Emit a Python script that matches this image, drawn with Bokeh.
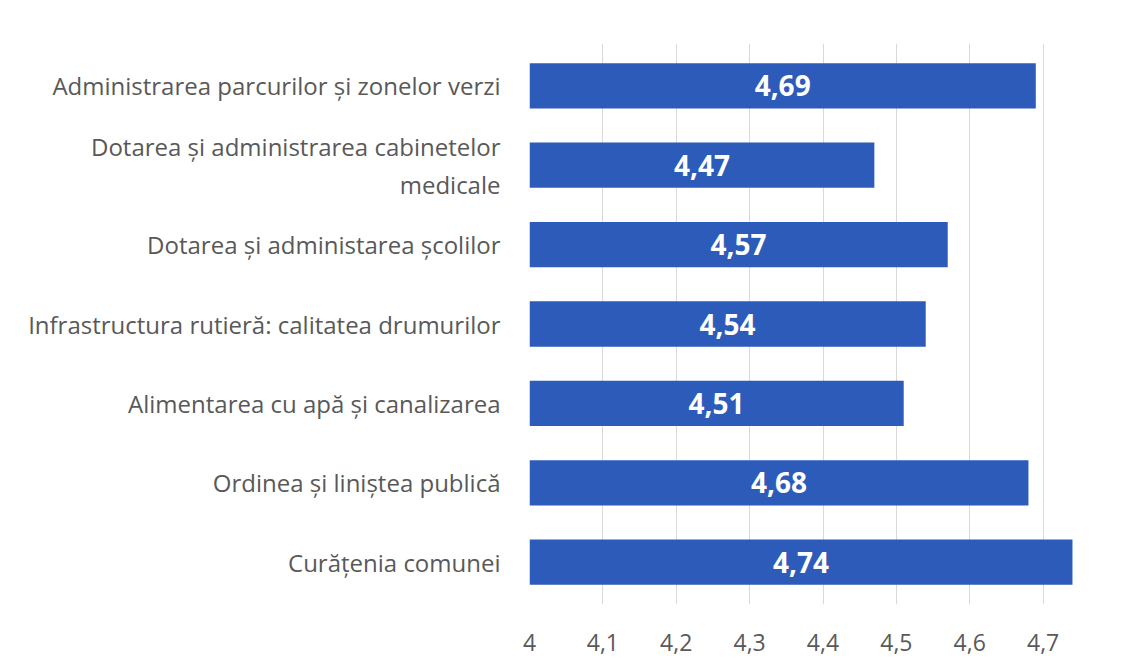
from bokeh.plotting import figure
from bokeh.models import ColumnDataSource, FactorRange, Range1d, FixedTicker, CustomJSTickFormatter, LabelSet
from bokeh.core.properties import value
from bokeh.embed import file_html
from bokeh.resources import INLINE

categories = [
    "Administrarea parcurilor și zonelor verzi",
    "Dotarea și administrarea cabinetelor\nmedicale",
    "Dotarea și administarea școlilor",
    "Infrastructura rutieră: calitatea drumurilor",
    "Alimentarea cu apă și canalizarea",
    "Ordinea și liniștea publică",
    "Curățenia comunei",
]
values = [4.69, 4.47, 4.57, 4.54, 4.51, 4.68, 4.74]
x_ticks = [4.0, 4.1, 4.2, 4.3, 4.4, 4.5, 4.6, 4.7]
x_start, x_end = 4.0, 4.8

BAR = "#2D5BBA"
FONT = "Open Sans"
GREY = "#595959"

labels = [f"{v:.2f}".replace(".", ",") for v in values]
mids = [(x_start + v) / 2 for v in values]
src = ColumnDataSource(dict(cat=categories, val=values, lab=labels, mid=mids))

p = figure(
    width=1120, height=658,
    y_range=FactorRange(factors=list(reversed(categories)), range_padding=0.0094),
    x_range=Range1d(x_start, x_end),
    output_backend="svg", toolbar_location=None,
    min_border_left=529, min_border_right=4, min_border_top=43, min_border_bottom=54,
)
p.background_fill_color = "white"
p.border_fill_color = "white"
p.outline_line_color = None

p.hbar(y="cat", left=x_start, right="val", height=0.57, source=src,
       fill_color=BAR, line_color=None)

p.add_layout(LabelSet(x="mid", y="cat", text="lab", source=src,
                      text_color="white", text_font=value(FONT), text_font_style="bold",
                      text_font_size="28px", text_align="center", text_baseline="middle"))

p.ygrid.grid_line_color = None
p.xgrid.grid_line_color = "#d9d9d9"
p.xgrid.grid_line_width = 1
p.xaxis.ticker = FixedTicker(ticks=x_ticks)
p.xgrid.ticker = FixedTicker(ticks=x_ticks)
p.xaxis.formatter = CustomJSTickFormatter(code="""
    const s = tick.toFixed(1).replace('.', ',');
    return s.endsWith(',0') ? s.slice(0, -2) : s;
""")

for ax in (p.xaxis, p.yaxis):
    ax.axis_line_color = None
    ax.major_tick_line_color = None
    ax.minor_tick_line_color = None
    ax.major_label_text_font = FONT
    ax.major_label_text_color = GREY

p.xaxis.major_label_text_font_size = "23px"
p.yaxis.major_label_text_font_size = "24px"
p.xaxis.major_label_standoff = 23
p.yaxis.major_label_standoff = 23
p.yaxis.major_label_text_line_height = 1.15

html = file_html(p, INLINE)
open("out.html", "w").write(html)
